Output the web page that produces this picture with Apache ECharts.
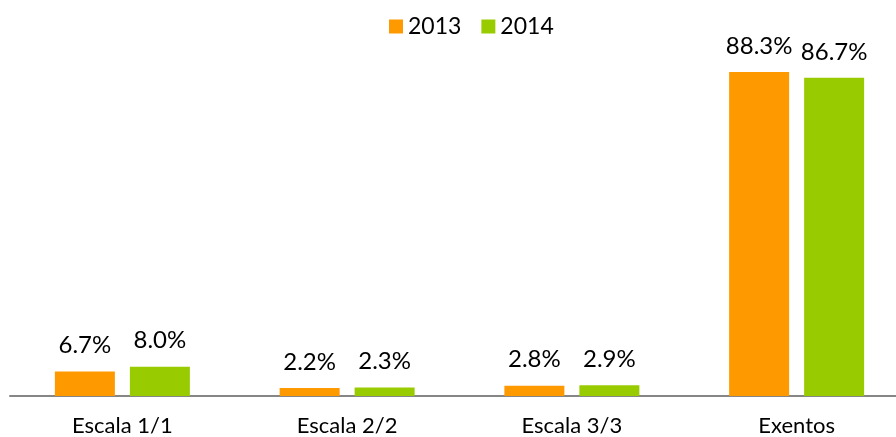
<!DOCTYPE html>
<html>
<head>
<meta charset="utf-8">
<script src="https://cdn.jsdelivr.net/npm/echarts@6/dist/echarts.min.js"></script>
<style>
  html, body { margin: 0; padding: 0; background: #fff; overflow: hidden; }
  #chart { width: 910px; height: 437px; }
</style>
</head>
<body>
<div id="chart"></div>
<script>
  // dados
  var categorias = ['Escala 1/1', 'Escala 2/2', 'Escala 3/3', 'Exentos'];
  var anos = ['2013', '2014'];
  var valores2013 = [6.7, 2.2, 2.8, 88.3];
  var valores2014 = [8.0, 2.3, 2.9, 86.7];

  var fonte = 'Lato, sans-serif';
  var chart = echarts.init(document.getElementById('chart'));

  function serie(nome, dados, cor) {
    return {
      name: nome,
      type: 'bar',
      barWidth: 60,
      barGap: '25%',
      itemStyle: { color: cor },
      label: {
        show: true,
        position: 'top',
        distance: 14,
        color: '#000',
        fontFamily: fonte,
        fontSize: 24,
        formatter: function (p) { return p.value.toFixed(1) + '%'; }
      },
      data: dados
    };
  }

  chart.setOption({
    animation: false,
    textStyle: { fontFamily: fonte },
    legend: {
      top: 10,
      left: 384,
      itemWidth: 14,
      itemHeight: 14,
      itemGap: 20,
      icon: 'rect',
      textStyle: { fontSize: 23, color: '#000', fontFamily: fonte },
      data: anos
    },
    // a grelha continua um pouco para lá da margem direita, como no original
    grid: { left: 10, right: 1, top: 29, bottom: 39, containLabel: false },
    xAxis: {
      type: 'category',
      data: categorias,
      axisLine: { lineStyle: { color: '#868686', width: 2 } },
      axisTick: { show: false },
      axisLabel: { color: '#000', fontSize: 22, margin: 19, fontFamily: fonte }
    },
    yAxis: {
      type: 'value',
      min: 0,
      max: 100,
      show: false,
      splitLine: { show: false }
    },
    series: [
      serie(anos[0], valores2013, '#FF9900'),
      serie(anos[1], valores2014, '#99CC00')
    ]
  });
</script>
</body>
</html>
